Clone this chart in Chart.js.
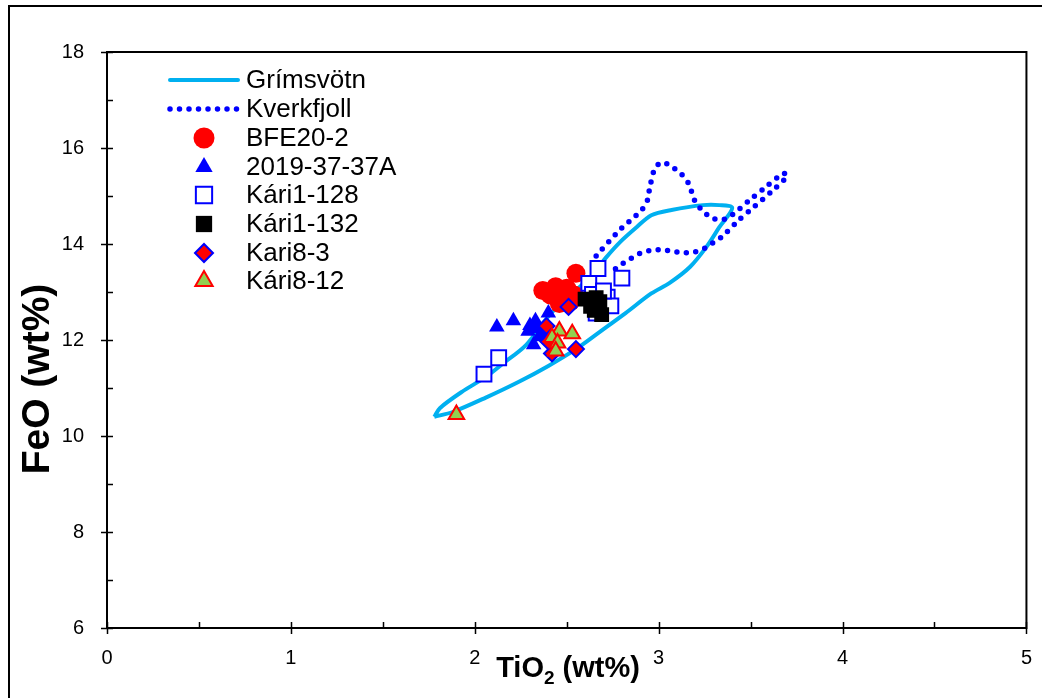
<!DOCTYPE html>
<html>
<head>
<meta charset="utf-8">
<script src="https://cdn.jsdelivr.net/npm/chart.js@4.4.1/dist/chart.umd.min.js"></script>
<style>
  html, body { margin: 0; padding: 0; background: #fff; overflow: hidden; }
  #wrap { width: 1042px; height: 698px; }
</style>
</head>
<body>
<div id="wrap"><canvas id="chart"></canvas></div>
<script>
// Grímsvötn field outline (closed)
const grimsX = [1.78, 1.81, 1.93, 2.06, 2.15, 2.28, 2.42, 2.64, 2.71, 2.79, 2.88, 2.96, 3.07, 3.24, 3.33, 3.40,
  3.33, 3.26, 3.17, 3.06, 2.96, 2.82, 2.68, 2.55, 2.40, 2.24, 2.06, 1.88, 1.78];
const grimsY = [10.40, 10.58, 10.92, 11.23, 11.50, 11.90, 12.58, 13.35, 13.70, 14.04, 14.35, 14.60, 14.71, 14.81, 14.81, 14.75,
  14.35, 13.94, 13.52, 13.19, 12.97, 12.56, 12.17, 11.81, 11.46, 11.13, 10.80, 10.50, 10.40];

// Kverkfjoll field outline (dotted)
const kverkX = [2.66, 2.78, 2.91, 2.94, 2.95, 2.98, 3.02, 3.07, 3.12, 3.16, 3.18, 3.20, 3.24, 3.29, 3.35, 3.40, 3.49, 3.58, 3.68, 3.70,
  3.61, 3.52, 3.43, 3.35, 3.30, 3.25, 3.19, 3.13, 3.07, 3.02, 2.96, 2.90, 2.85, 2.80, 2.75];
const kverkY = [13.75, 14.26, 14.72, 14.92, 15.14, 15.58, 15.70, 15.61, 15.47, 15.28, 15.08, 14.87, 14.69, 14.54, 14.51, 14.61, 14.90, 15.18, 15.47, 15.42,
  15.08, 14.78, 14.48, 14.17, 14.04, 13.91, 13.83, 13.82, 13.85, 13.88, 13.87, 13.81, 13.70, 13.58, 13.44];

// samples: TiO2 (x) and FeO (y)
const bfeX = [2.55, 2.37, 2.44, 2.50, 2.41, 2.48, 2.52, 2.46, 2.54, 2.43];
const bfeY = [13.39, 13.03, 13.11, 13.08, 12.94, 12.87, 12.80, 12.76, 12.94, 13.00];

const s2019X = [2.12, 2.21, 2.40, 2.33, 2.29, 2.32, 2.35, 2.33, 2.38, 2.30];
const s2019Y = [12.27, 12.40, 12.56, 12.40, 12.18, 11.90, 12.07, 12.24, 12.15, 12.30];

const kari128X = [2.05, 2.13, 2.67, 2.62, 2.80, 2.72, 2.74, 2.66, 2.64, 2.70];
const kari128Y = [11.29, 11.63, 13.49, 13.18, 13.29, 12.89, 12.71, 12.56, 12.95, 13.02];

const kari132X = [2.60, 2.66, 2.63, 2.69, 2.65, 2.68];
const kari132Y = [12.85, 12.88, 12.70, 12.53, 12.62, 12.80];

const kari83X = [2.51, 2.39, 2.40, 2.55, 2.42];
const kari83Y = [12.69, 12.29, 11.97, 11.81, 11.72];

const kari812X = [1.90, 2.46, 2.53, 2.42, 2.45, 2.44];
const kari812Y = [10.45, 12.19, 12.13, 12.05, 11.94, 11.77];

const xTicks = [0, 1, 2, 3, 4, 5];
const yTicks = [6, 8, 10, 12, 14, 16, 18];

const FONT = "'Liberation Sans', Arial, sans-serif";
const pts = (xs, ys) => xs.map((x, i) => ({ x, y: ys[i] }));

const series = [
  { label: 'Grímsvötn', data: pts(grimsX, grimsY), showLine: true, borderColor: '#00B0F0', borderWidth: 4,
    pointRadius: 0, tension: 0.3, fill: false },
  { label: 'Kverkfjoll', data: pts(kverkX, kverkY), showLine: true, borderColor: '#0000FF', borderWidth: 5.5,
    borderDash: [0, 9.5], borderCapStyle: 'round', pointRadius: 0, tension: 0.3, fill: false },
  { label: 'BFE20-2', data: pts(bfeX, bfeY), pointStyle: 'circle', pointRadius: 9.5,
    backgroundColor: '#FF0000', borderColor: '#FF0000', borderWidth: 0 },
  { label: '2019-37-37A', data: pts(s2019X, s2019Y), pointStyle: 'triangle', pointRadius: 9,
    backgroundColor: '#0000FF', borderColor: '#0000FF', borderWidth: 0 },
  { label: 'Kári1-128', data: pts(kari128X, kari128Y), pointStyle: 'rect', pointRadius: 10.5,
    backgroundColor: '#FFFFFF', borderColor: '#0000FF', borderWidth: 2 },
  { label: 'Kári1-132', data: pts(kari132X, kari132Y), pointStyle: 'rect', pointRadius: 10.5,
    backgroundColor: '#000000', borderColor: '#000000', borderWidth: 0 },
  { label: 'Kari8-3', data: pts(kari83X, kari83Y), pointStyle: 'rectRot', pointRadius: 8,
    backgroundColor: '#FF0000', borderColor: '#0000FF', borderWidth: 2 },
  { label: 'Kári8-12', data: pts(kari812X, kari812Y), pointStyle: 'triangle', pointRadius: 9,
    backgroundColor: '#92D050', borderColor: '#FF0000', borderWidth: 2 },
];
// later series drawn on top, like the spreadsheet
series.forEach((s, i) => { s.order = -i; });

function marker(ctx, s, x, y) {
  ctx.save();
  ctx.fillStyle = s.backgroundColor;
  ctx.strokeStyle = s.borderColor;
  ctx.lineWidth = s.borderWidth;
  Chart.helpers.drawPoint(ctx, { pointStyle: s.pointStyle, rotation: 0, radius: s.pointRadius, borderWidth: s.borderWidth }, x, y);
  ctx.restore();
}

const decor = {
  id: 'decor',
  beforeDraw(chart) {
    const ctx = chart.ctx;
    ctx.save();
    ctx.fillStyle = '#fff';
    ctx.fillRect(0, 0, chart.width, chart.height);
    ctx.restore();
  },
  beforeDatasetsDraw(chart) {
    const { ctx, chartArea: a, scales } = chart;
    ctx.save();
    ctx.strokeStyle = '#000';
    ctx.lineWidth = 2;
    ctx.strokeRect(a.left, a.top, a.right - a.left, a.bottom - a.top);
    ctx.lineWidth = 1.5;
    ctx.beginPath();
    for (let v = 0; v <= 5.001; v += 0.5) {
      const px = Math.round(scales.x.getPixelForValue(v)) + 0.5;
      const major = Math.abs(v - Math.round(v)) < 1e-6;
      ctx.moveTo(px, major ? a.bottom + 6 : a.bottom);
      ctx.lineTo(px, a.bottom - 6);
    }
    for (let v = 6; v <= 18; v += 1) {
      const py = Math.round(scales.y.getPixelForValue(v)) + 0.5;
      const major = v % 2 === 0;
      ctx.moveTo(major ? a.left - 6 : a.left, py);
      ctx.lineTo(a.left + 6, py);
    }
    ctx.stroke();
    ctx.restore();
  },
  afterDraw(chart) {
    const { ctx } = chart;
    ctx.save();
    // outer frame
    ctx.strokeStyle = '#000';
    ctx.lineWidth = 2;
    ctx.beginPath();
    ctx.moveTo(9, 700);
    ctx.lineTo(9, 6);
    ctx.lineTo(1044, 6);
    ctx.stroke();

    // x axis title with subscript
    ctx.fillStyle = '#000';
    ctx.textBaseline = 'alphabetic';
    ctx.textAlign = 'left';
    const big = 'bold 29px ' + FONT, small = 'bold 19px ' + FONT;
    ctx.font = big;
    const w1 = ctx.measureText('TiO').width;
    const w3 = ctx.measureText(' (wt%)').width;
    ctx.font = small;
    const w2 = ctx.measureText('2').width;
    const x0 = 568 - (w1 + w2 + w3) / 2;
    const base = 677;
    ctx.font = big;
    ctx.fillText('TiO', x0, base);
    ctx.font = small;
    ctx.fillText('2', x0 + w1, base + 7);
    ctx.font = big;
    ctx.fillText(' (wt%)', x0 + w1 + w2, base);

    // y axis title
    ctx.save();
    ctx.translate(38, 379);
    ctx.rotate(-Math.PI / 2);
    ctx.textAlign = 'center';
    ctx.textBaseline = 'middle';
    ctx.font = 'bold 39px ' + FONT;
    ctx.fillText('FeO (wt%)', 0, 0);
    ctx.restore();

    // legend
    const rowY = [80, 109, 138, 167, 195, 224, 253, 281];
    ctx.font = '26px ' + FONT;
    ctx.textAlign = 'left';
    ctx.textBaseline = 'middle';
    series.forEach((s, i) => {
      const y = rowY[i];
      if (s.showLine) {
        ctx.save();
        ctx.strokeStyle = s.borderColor;
        ctx.lineWidth = s.borderWidth;
        ctx.lineCap = 'round';
        if (s.borderDash) ctx.setLineDash(s.borderDash);
        ctx.beginPath();
        ctx.moveTo(170, y);
        ctx.lineTo(238, y);
        ctx.stroke();
        ctx.restore();
      } else {
        marker(ctx, Object.assign({}, s, { pointRadius: s.pointRadius + 1 }), 204, y);
      }
      ctx.fillStyle = '#000';
      ctx.fillText(s.label, 246, y + 1);
    });
    ctx.restore();
  }
};

new Chart(document.getElementById('chart'), {
  type: 'scatter',
  data: { datasets: series },
  options: {
    responsive: true,
    maintainAspectRatio: false,
    animation: false,
    events: [],
    layout: { padding: { left: 8, top: 52, right: 0, bottom: 0 } },
    plugins: { legend: { display: false }, tooltip: { enabled: false } },
    scales: {
      x: {
        type: 'linear', min: 0, max: 5,
        grid: { display: false },
        border: { display: false },
        afterBuildTicks: (scale) => { scale.ticks = xTicks.map(v => ({ value: v })); },
        afterFit: (scale) => { scale.height = 70; },
        ticks: { color: '#000', padding: 10, font: { family: FONT, size: 20 } }
      },
      y: {
        type: 'linear', min: 6, max: 18,
        grid: { display: false },
        border: { display: false },
        afterBuildTicks: (scale) => { scale.ticks = yTicks.map(v => ({ value: v })); },
        afterFit: (scale) => { scale.width = 99; },
        ticks: { color: '#000', padding: 15, font: { family: FONT, size: 20 } }
      }
    }
  },
  plugins: [decor]
});
</script>
</body>
</html>
